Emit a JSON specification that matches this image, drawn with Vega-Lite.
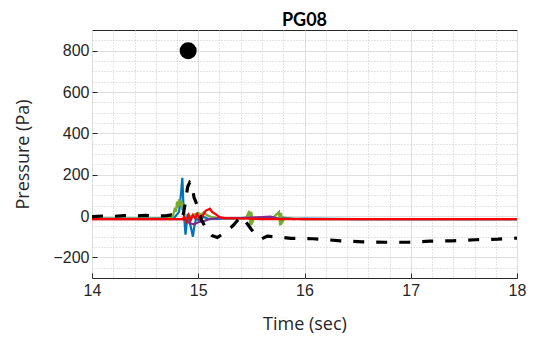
{
  "$schema": "https://vega.github.io/schema/vega-lite/v6.json",
  "width": 425,
  "height": 248,
  "autosize": {"type": "none"},
  "padding": {"top": 30, "left": 92, "right": 33, "bottom": 59},
  "background": "white",
  "title": {"text": "PG08", "font": "Lato", "fontSize": 18, "fontWeight": "bold", "color": "#000", "anchor": "middle", "offset": 0},
  "config": {
    "view": {"stroke": "#262626", "strokeWidth": 1},
    "axis": {"labelFont": "Liberation Sans", "labelFontSize": 16, "labelColor": "#262626", "titleFont": "Open Sans", "titleFontSize": 18, "titleFontWeight": "normal", "titleColor": "#262626", "domain": false}
  },
  "resolve": {"axis": {"x": "independent", "y": "independent"}},
  "datasets": {
    "lines": [
      {"s": "B", "t": 14.0, "p": -12}, {"s": "B", "t": 14.5, "p": -12}, {"s": "B", "t": 14.7, "p": -10}, {"s": "B", "t": 14.78, "p": -5},
      {"s": "B", "t": 14.82, "p": 20}, {"s": "B", "t": 14.84, "p": 120}, {"s": "B", "t": 14.85, "p": 185}, {"s": "B", "t": 14.86, "p": 60},
      {"s": "B", "t": 14.87, "p": -20}, {"s": "B", "t": 14.88, "p": -90}, {"s": "B", "t": 14.89, "p": -40}, {"s": "B", "t": 14.9, "p": 10},
      {"s": "B", "t": 14.92, "p": -30}, {"s": "B", "t": 14.95, "p": -100}, {"s": "B", "t": 14.96, "p": -60}, {"s": "B", "t": 14.98, "p": -10},
      {"s": "B", "t": 15.0, "p": -20}, {"s": "B", "t": 15.05, "p": -5}, {"s": "B", "t": 15.1, "p": -15}, {"s": "B", "t": 15.3, "p": -12},
      {"s": "B", "t": 15.5, "p": -8}, {"s": "B", "t": 15.6, "p": -15}, {"s": "B", "t": 15.7, "p": -5}, {"s": "B", "t": 15.75, "p": -12},
      {"s": "B", "t": 15.8, "p": -8}, {"s": "B", "t": 15.9, "p": -15}, {"s": "B", "t": 16.0, "p": -12}, {"s": "B", "t": 16.5, "p": -15}, {"s": "B", "t": 18.0, "p": -15},

      {"s": "G", "t": 14.0, "p": -12}, {"s": "G", "t": 14.7, "p": -12}, {"s": "G", "t": 14.76, "p": -5}, {"s": "G", "t": 14.78, "p": 40},
      {"s": "G", "t": 14.79, "p": 20}, {"s": "G", "t": 14.8, "p": 70}, {"s": "G", "t": 14.81, "p": 40}, {"s": "G", "t": 14.82, "p": 80},
      {"s": "G", "t": 14.83, "p": 50}, {"s": "G", "t": 14.84, "p": 75}, {"s": "G", "t": 14.85, "p": 30}, {"s": "G", "t": 14.86, "p": 60},
      {"s": "G", "t": 14.87, "p": 10}, {"s": "G", "t": 14.88, "p": -20}, {"s": "G", "t": 14.9, "p": -10}, {"s": "G", "t": 14.95, "p": 5},
      {"s": "G", "t": 15.0, "p": 15}, {"s": "G", "t": 15.03, "p": 5}, {"s": "G", "t": 15.05, "p": 18}, {"s": "G", "t": 15.08, "p": 5},
      {"s": "G", "t": 15.12, "p": -5}, {"s": "G", "t": 15.2, "p": -10}, {"s": "G", "t": 15.3, "p": -12}, {"s": "G", "t": 15.45, "p": -10},
      {"s": "G", "t": 15.48, "p": 25}, {"s": "G", "t": 15.49, "p": -45}, {"s": "G", "t": 15.5, "p": 20}, {"s": "G", "t": 15.51, "p": -30},
      {"s": "G", "t": 15.53, "p": -10}, {"s": "G", "t": 15.7, "p": -10}, {"s": "G", "t": 15.76, "p": 20}, {"s": "G", "t": 15.77, "p": -45},
      {"s": "G", "t": 15.78, "p": 15}, {"s": "G", "t": 15.79, "p": -30}, {"s": "G", "t": 15.81, "p": -12}, {"s": "G", "t": 16.0, "p": -15}, {"s": "G", "t": 18.0, "p": -15},

      {"s": "P", "t": 14.0, "p": -15}, {"s": "P", "t": 14.85, "p": -15}, {"s": "P", "t": 14.88, "p": -20}, {"s": "P", "t": 14.92, "p": -35},
      {"s": "P", "t": 14.96, "p": -40}, {"s": "P", "t": 15.0, "p": -30}, {"s": "P", "t": 15.05, "p": -25}, {"s": "P", "t": 15.1, "p": -15},
      {"s": "P", "t": 15.2, "p": -10}, {"s": "P", "t": 15.4, "p": -10}, {"s": "P", "t": 15.6, "p": -5}, {"s": "P", "t": 15.68, "p": -3},
      {"s": "P", "t": 15.75, "p": -12}, {"s": "P", "t": 16.0, "p": -15}, {"s": "P", "t": 18.0, "p": -15},

      {"s": "R", "t": 14.0, "p": -15}, {"s": "R", "t": 14.85, "p": -15}, {"s": "R", "t": 14.87, "p": -5}, {"s": "R", "t": 14.89, "p": -25},
      {"s": "R", "t": 14.91, "p": 5}, {"s": "R", "t": 14.93, "p": -20}, {"s": "R", "t": 14.95, "p": 5}, {"s": "R", "t": 14.97, "p": -10},
      {"s": "R", "t": 14.99, "p": 10}, {"s": "R", "t": 15.01, "p": -15}, {"s": "R", "t": 15.04, "p": 0}, {"s": "R", "t": 15.07, "p": 25},
      {"s": "R", "t": 15.09, "p": 30}, {"s": "R", "t": 15.11, "p": 35}, {"s": "R", "t": 15.13, "p": 20}, {"s": "R", "t": 15.16, "p": 10},
      {"s": "R", "t": 15.2, "p": -5}, {"s": "R", "t": 15.25, "p": -10}, {"s": "R", "t": 15.4, "p": -12}, {"s": "R", "t": 15.6, "p": -15}, {"s": "R", "t": 18.0, "p": -15}
    ],
    "black": [
      {"t": 14.0, "p": -3}, {"t": 14.1, "p": 0}, {"t": 14.2, "p": -2}, {"t": 14.3, "p": 2}, {"t": 14.4, "p": 0}, {"t": 14.5, "p": 3},
      {"t": 14.6, "p": 0}, {"t": 14.7, "p": 2}, {"t": 14.75, "p": 5}, {"t": 14.8, "p": 0}, {"t": 14.84, "p": -5}, {"t": 14.86, "p": 10},
      {"t": 14.88, "p": 70}, {"t": 14.9, "p": 140}, {"t": 14.92, "p": 163}, {"t": 14.94, "p": 155}, {"t": 14.96, "p": 90}, {"t": 15.0, "p": 40},
      {"t": 15.03, "p": -20}, {"t": 15.08, "p": -65}, {"t": 15.13, "p": -95}, {"t": 15.18, "p": -104}, {"t": 15.22, "p": -90}, {"t": 15.27, "p": -72},
      {"t": 15.33, "p": -45}, {"t": 15.38, "p": -15}, {"t": 15.42, "p": -5}, {"t": 15.45, "p": -30}, {"t": 15.5, "p": -65}, {"t": 15.55, "p": -95},
      {"t": 15.6, "p": -110}, {"t": 15.65, "p": -97}, {"t": 15.7, "p": -100}, {"t": 15.8, "p": -104}, {"t": 15.87, "p": -108}, {"t": 16.08, "p": -110},
      {"t": 16.34, "p": -120}, {"t": 16.55, "p": -125}, {"t": 16.76, "p": -127}, {"t": 16.98, "p": -127}, {"t": 17.18, "p": -122}, {"t": 17.39, "p": -120},
      {"t": 17.61, "p": -115}, {"t": 17.82, "p": -112}, {"t": 18.0, "p": -107}
    ],
    "dot": [{"t": 14.905, "p": 800}]
  },
  "layer": [
    {
      "data": {"name": "lines"},
      "mark": {"type": "line", "strokeWidth": 2.2, "clip": true},
      "encoding": {
        "x": {"field": "t", "type": "quantitative", "scale": {"domain": [14, 18], "nice": false},
          "axis": {"orient": "bottom", "title": null, "labels": false, "ticks": false, "grid": true, "gridColor": "#c8c8c8", "gridDash": [1, 2],
            "values": [14.2, 14.4, 14.6, 14.8, 15.2, 15.4, 15.6, 15.8, 16.2, 16.4, 16.6, 16.8, 17.2, 17.4, 17.6, 17.8]}},
        "y": {"field": "p", "type": "quantitative", "scale": {"domain": [-300, 900], "nice": false},
          "axis": {"orient": "left", "title": null, "labels": false, "ticks": false, "grid": true, "gridColor": "#c8c8c8", "gridDash": [1, 2],
            "values": [-250, -150, -100, -50, 50, 100, 150, 250, 300, 350, 450, 500, 550, 650, 700, 750, 850]}},
        "color": {"field": "s", "type": "nominal", "legend": null,
          "scale": {"domain": ["B", "G", "P", "R"], "range": ["#0072BD", "#77AC30", "#7E2F8E", "#FF0000"]}},
        "strokeWidth": {"field": "s", "type": "nominal", "legend": null,
          "scale": {"domain": ["B", "G", "P", "R"], "range": [2.2, 2.2, 2.2, 2.8]}},
        "order": {"field": "t", "type": "quantitative"}
      }
    },
    {
      "data": {"name": "black"},
      "mark": {"type": "line", "color": "#000000", "strokeWidth": 3.2, "strokeDash": [11, 12], "clip": true},
      "encoding": {
        "x": {"field": "t", "type": "quantitative",
          "axis": {"orient": "bottom", "title": "Time (sec)", "titlePadding": 17, "values": [14, 15, 16, 17, 18], "format": "d",
            "labelPadding": 9, "labelFlush": false, "labelOverlap": false,
            "tickSize": -5, "tickColor": "#262626", "grid": true, "gridColor": "#dedede"}},
        "y": {"field": "p", "type": "quantitative",
          "axis": {"orient": "left", "title": "Pressure (Pa)", "titlePadding": 20, "values": [-200, 0, 200, 400, 600, 800], "format": "d",
            "labelPadding": 8, "labelOverlap": false,
            "tickSize": -5, "tickColor": "#262626", "grid": true, "gridColor": "#dedede"}},
        "order": {"field": "t", "type": "quantitative"}
      }
    },
    {
      "data": {"name": "dot"},
      "mark": {"type": "point", "filled": true, "color": "#000000", "opacity": 1, "size": 290},
      "encoding": {
        "x": {"field": "t", "type": "quantitative", "axis": null},
        "y": {"field": "p", "type": "quantitative", "axis": null}
      }
    }
  ]
}
